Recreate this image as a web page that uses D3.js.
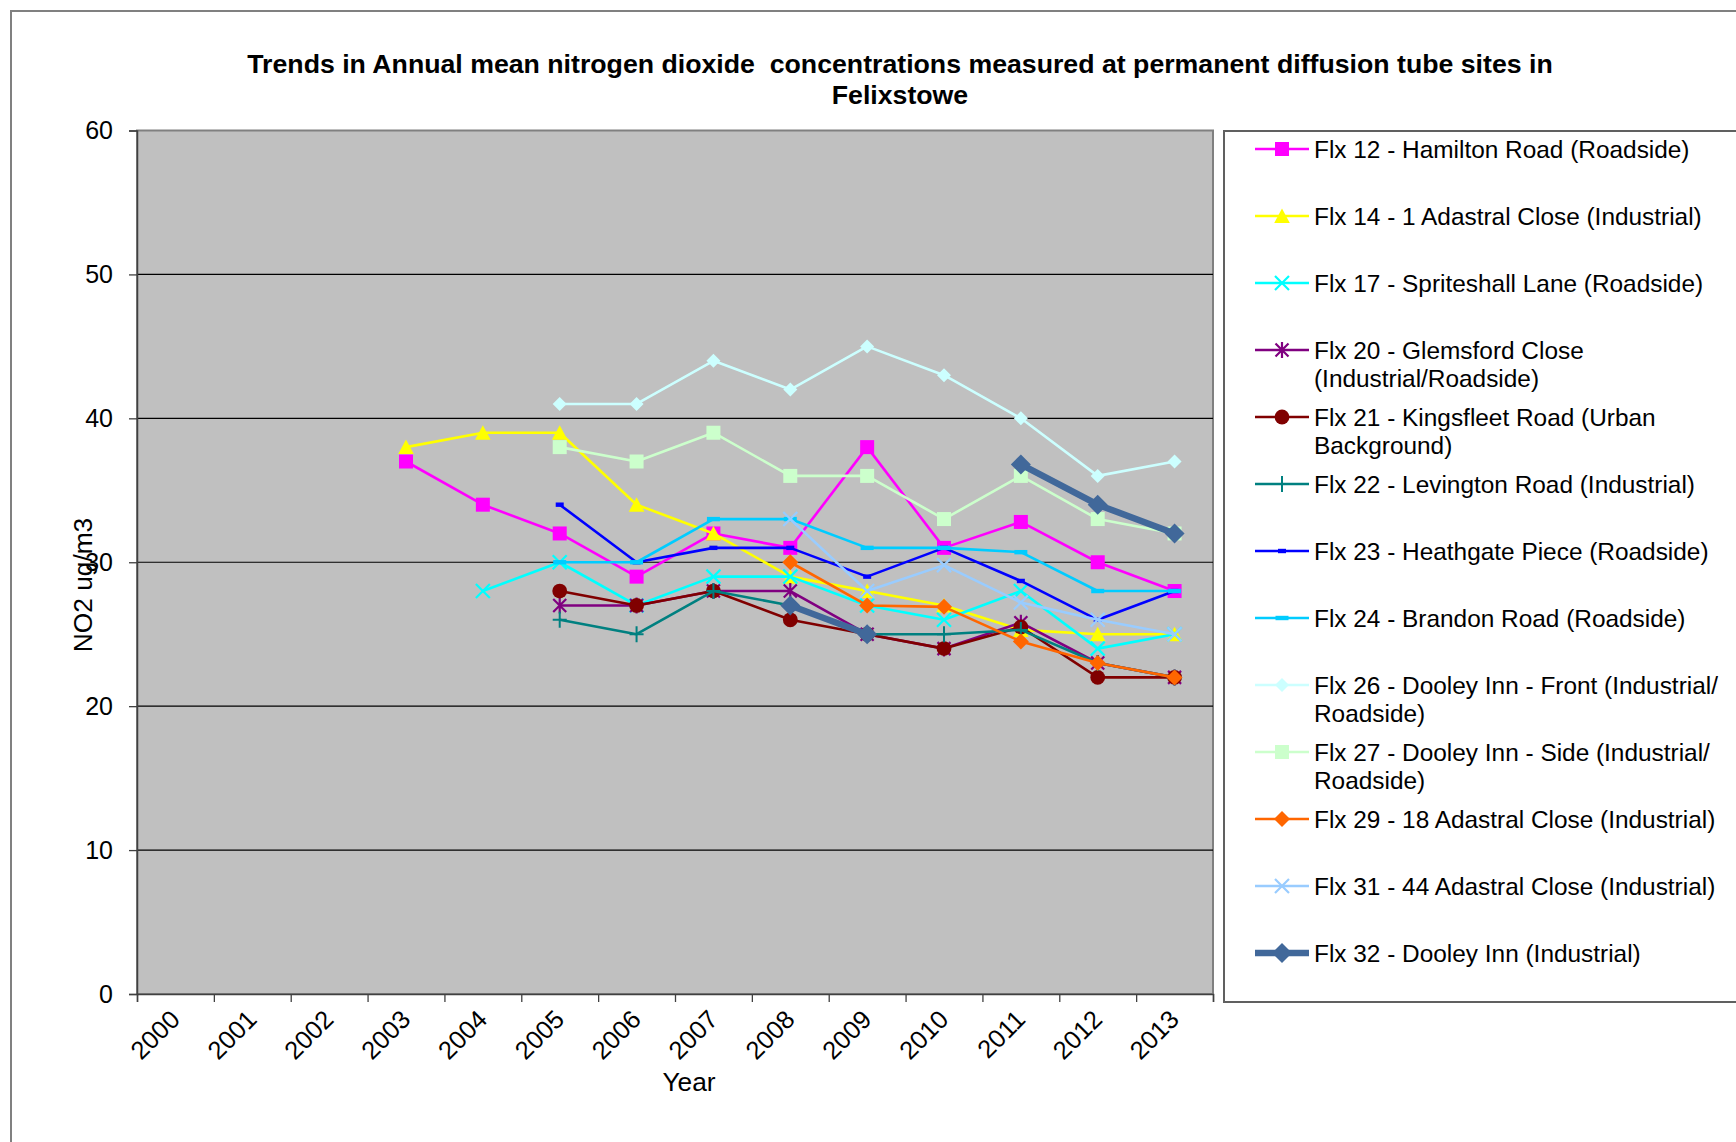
<!DOCTYPE html>
<html>
<head>
<meta charset="utf-8">
<script src="https://cdn.jsdelivr.net/npm/d3@7"></script>
<style>
  body { margin: 0; background: #ffffff; }
  svg { display: block; font-family: "Liberation Sans", Arial, sans-serif; }
</style>
</head>
<body>
<svg id="chart" width="1736" height="1142"></svg>
<script>
// Annual mean NO2 (ug/m3) by year, one array per diffusion tube site (null = no data)
const years = ["2000","2001","2002","2003","2004","2005","2006","2007","2008","2009","2010","2011","2012","2013"];
const yTicks = [0, 10, 20, 30, 40, 50, 60];

const flx12 = [null, null, null, 37, 34, 32, 29, 32, 31, 38, 31, 32.8, 30, 28];
const flx14 = [null, null, null, 38, 39, 39, 34, 32, 29, 28, 27, 25.3, 25, 25];
const flx17 = [null, null, null, null, 28, 30, 27, 29, 29, 27, 26, 28, 24, 25];
const flx20 = [null, null, null, null, null, 27, 27, 28, 28, 25, 24, 25.8, 23, 22];
const flx21 = [null, null, null, null, null, 28, 27, 28, 26, 25, 24, 25.5, 22, 22];
const flx22 = [null, null, null, null, null, 26, 25, 28, 27, 25, 25, 25.3, 23, 22];
const flx23 = [null, null, null, null, null, 34, 30, 31, 31, 29, 31, 28.7, 26, 28];
const flx24 = [null, null, null, null, null, 30, 30, 33, 33, 31, 31, 30.7, 28, 28];
const flx26 = [null, null, null, null, null, 41, 41, 44, 42, 45, 43, 40, 36, 37];
const flx27 = [null, null, null, null, null, 38, 37, 39, 36, 36, 33, 36, 33, 32];
const flx29 = [null, null, null, null, null, null, null, null, 30, 27, 26.9, 24.5, 23, 22];
const flx31 = [null, null, null, null, null, null, null, null, 33, 28, 29.8, 27.2, 26, 25];
const flx32 = [null, null, null, null, null, null, null, null, 27, 25, null, 36.8, 34, 32];

const seriesNames = [
  ["Flx 12 - Hamilton Road (Roadside)"],
  ["Flx 14 - 1 Adastral Close (Industrial)"],
  ["Flx 17 - Spriteshall Lane (Roadside)"],
  ["Flx 20 - Glemsford Close", "(Industrial/Roadside)"],
  ["Flx 21 - Kingsfleet Road (Urban", "Background)"],
  ["Flx 22 - Levington Road (Industrial)"],
  ["Flx 23 - Heathgate Piece (Roadside)"],
  ["Flx 24 - Brandon Road (Roadside)"],
  ["Flx 26 - Dooley Inn - Front (Industrial/", "Roadside)"],
  ["Flx 27 - Dooley Inn - Side (Industrial/", "Roadside)"],
  ["Flx 29 - 18 Adastral Close (Industrial)"],
  ["Flx 31 - 44 Adastral Close (Industrial)"],
  ["Flx 32 - Dooley Inn (Industrial)"]
];
const seriesValues = [flx12, flx14, flx17, flx20, flx21, flx22, flx23, flx24, flx26, flx27, flx29, flx31, flx32];
const seriesColors = ["#FF00FF", "#FFFF00", "#00FFFF", "#800080", "#800000", "#008080", "#0000FF",
                      "#00CCFF", "#CCFFFF", "#CCFFCC", "#FF6600", "#99CCFF", "#41689A"];
const seriesMarkers = ["square", "triangle", "x", "star", "circle", "plus", "dashS",
                       "dashL", "diamondS", "square", "diamond", "x", "diamondL"];
const seriesWidths = [2.6, 2.6, 2.6, 2.6, 2.6, 2.6, 2.6, 2.6, 2.6, 2.6, 2.6, 2.6, 6.5];

const svg = d3.select("#chart");

// Outer chart frame
svg.append("rect")
  .attr("x", 11).attr("y", 11).attr("width", 1800).attr("height", 1200)
  .attr("fill", "#ffffff").attr("stroke", "#808080").attr("stroke-width", 2);

// Plot area geometry
const plotLeft = 137, plotRight = 1213, plotTop = 130.5, plotBottom = 994;

const x = d3.scaleBand().domain(years).range([plotLeft, plotRight]).paddingInner(0).paddingOuter(0);
const xEdge = d3.scaleLinear().domain([0, years.length]).range([plotLeft, plotRight]);
const y = d3.scaleLinear().domain([0, 60]).range([plotBottom, plotTop]);
const cx = d => x(d) + x.bandwidth() / 2;

// Plot background
svg.append("rect")
  .attr("x", plotLeft).attr("y", plotTop)
  .attr("width", plotRight - plotLeft).attr("height", plotBottom - plotTop)
  .attr("fill", "#C0C0C0").attr("stroke", "#808080").attr("stroke-width", 2);

// Horizontal gridlines
svg.append("g").selectAll("line")
  .data(yTicks.filter(t => t > 0 && t < 60))
  .join("line")
  .attr("x1", plotLeft).attr("x2", plotRight)
  .attr("y1", d => y(d)).attr("y2", d => y(d))
  .attr("stroke", "#000000").attr("stroke-width", 1.2);

// Y axis
const yAxis = svg.append("g")
  .attr("transform", `translate(${plotLeft},0)`)
  .call(d3.axisLeft(y).tickValues(yTicks).tickSize(8).tickPadding(16).tickFormat(d3.format("d")));
yAxis.select(".domain").attr("stroke", "#404040").attr("stroke-width", 1.5);
yAxis.selectAll(".tick line").attr("stroke", "#404040").attr("stroke-width", 1.3);
yAxis.selectAll(".tick text")
  .attr("font-size", 25).attr("fill", "#000").attr("font-family", "Liberation Sans, Arial, sans-serif");

// X axis: tick marks at category boundaries
const xAxis = svg.append("g")
  .attr("transform", `translate(0,${plotBottom})`)
  .call(d3.axisBottom(xEdge).tickValues(d3.range(years.length + 1)).tickSize(8).tickFormat(""));
xAxis.select(".domain").attr("stroke", "#404040").attr("stroke-width", 1.5);
xAxis.selectAll(".tick line").attr("stroke", "#404040").attr("stroke-width", 1.3);

// Rotated year labels
svg.append("g").selectAll("text")
  .data(years)
  .join("text")
  .attr("transform", d => `translate(${cx(d) + 6},${plotBottom + 27}) rotate(-45)`)
  .attr("text-anchor", "end")
  .attr("font-size", 25.5)
  .attr("fill", "#000")
  .text(d => d);

// Axis titles
svg.append("text")
  .attr("x", 689).attr("y", 1091)
  .attr("text-anchor", "middle").attr("font-size", 26.3).attr("fill", "#000")
  .text("Year");
svg.append("text")
  .attr("transform", "translate(92,585) rotate(-90)")
  .attr("text-anchor", "middle").attr("font-size", 26.3).attr("fill", "#000")
  .text("NO2 ug/m3");

// Chart title
const title = svg.append("text")
  .attr("text-anchor", "middle").attr("font-size", 26.7).attr("font-weight", "bold")
  .attr("fill", "#000").style("white-space", "pre");
title.append("tspan").attr("x", 900).attr("y", 73)
  .text("Trends in Annual mean nitrogen dioxide  concentrations measured at permanent diffusion tube sites in");
title.append("tspan").attr("x", 900).attr("y", 104).text("Felixstowe");

// Marker shapes
function drawMarker(g, type, color) {
  switch (type) {
    case "square":
      g.append("rect").attr("x", -7).attr("y", -7).attr("width", 14).attr("height", 14).attr("fill", color);
      break;
    case "triangle":
      g.append("path").attr("d", "M0,-7.5L7.8,7L-7.8,7Z").attr("fill", color);
      break;
    case "circle":
      g.append("circle").attr("r", 7.4).attr("fill", color);
      break;
    case "diamond":
      g.append("path").attr("d", "M0,-8L8,0L0,8L-8,0Z").attr("fill", color);
      break;
    case "diamondS":
      g.append("path").attr("d", "M0,-7L7,0L0,7L-7,0Z").attr("fill", color);
      break;
    case "diamondL":
      g.append("path").attr("d", "M0,-10L10,0L0,10L-10,0Z").attr("fill", color);
      break;
    case "x":
      g.append("path").attr("d", "M-7,-7L7,7M-7,7L7,-7")
        .attr("stroke", color).attr("stroke-width", 2.2).attr("fill", "none");
      break;
    case "star":
      g.append("path").attr("d", "M-6.5,-6.5L6.5,6.5M-6.5,6.5L6.5,-6.5M0,-8V8")
        .attr("stroke", color).attr("stroke-width", 2.2).attr("fill", "none");
      break;
    case "plus":
      g.append("path").attr("d", "M0,-8V8M-7,0H7")
        .attr("stroke", color).attr("stroke-width", 2).attr("fill", "none");
      break;
    case "dashS":
      g.append("rect").attr("x", -4).attr("y", -2.2).attr("width", 8).attr("height", 4.4).attr("fill", color);
      break;
    case "dashL":
      g.append("rect").attr("x", -6.5).attr("y", -2.2).attr("width", 13).attr("height", 4.4).attr("fill", color);
      break;
  }
}

// Series lines and markers
const line = d3.line()
  .defined(d => d.v !== null)
  .x(d => cx(d.year))
  .y(d => y(d.v));

const plot = svg.append("g");
seriesValues.forEach((vals, i) => {
  const pts = years.map((yr, k) => ({ year: yr, v: vals[k] }));
  const sg = plot.append("g");
  sg.append("path")
    .datum(pts)
    .attr("d", line)
    .attr("fill", "none")
    .attr("stroke", seriesColors[i])
    .attr("stroke-width", seriesWidths[i])
    .attr("stroke-linejoin", "round");
  sg.selectAll("g.pt")
    .data(pts.filter(p => p.v !== null))
    .join("g")
    .attr("class", "pt")
    .attr("transform", p => `translate(${cx(p.year)},${y(p.v)})`)
    .each(function () { drawMarker(d3.select(this), seriesMarkers[i], seriesColors[i]); });
});

// Legend
const legend = svg.append("g");
legend.append("rect")
  .attr("x", 1224).attr("y", 131).attr("width", 600).attr("height", 871)
  .attr("fill", "#ffffff").attr("stroke", "#606060").attr("stroke-width", 2);

const legendRowY = d3.scaleLinear().domain([0, 12]).range([149, 953]);
seriesNames.forEach((lines, i) => {
  const ly = legendRowY(i);
  const row = legend.append("g");
  row.append("line")
    .attr("x1", 1255).attr("x2", 1309).attr("y1", ly).attr("y2", ly)
    .attr("stroke", seriesColors[i]).attr("stroke-width", seriesWidths[i]);
  drawMarker(row.append("g").attr("transform", `translate(1282,${ly})`), seriesMarkers[i], seriesColors[i]);
  const t = row.append("text").attr("font-size", 24.4).attr("fill", "#000");
  lines.forEach((s, k) => {
    t.append("tspan").attr("x", 1314).attr("y", ly + 8.6 + k * 28.5).text(s);
  });
});
</script>
</body>
</html>
